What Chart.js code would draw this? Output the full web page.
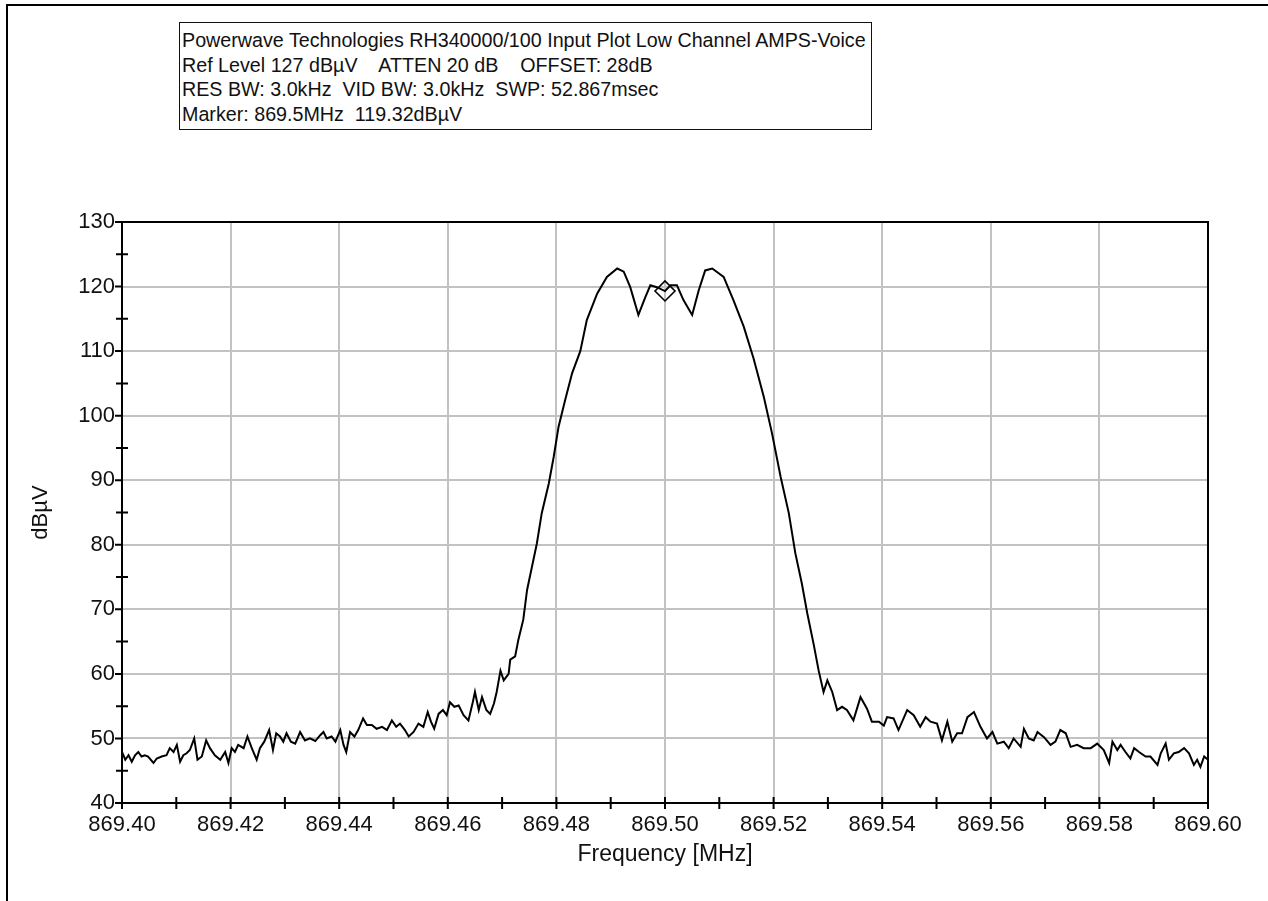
<!DOCTYPE html>
<html>
<head>
<meta charset="utf-8">
<script src="https://cdn.jsdelivr.net/npm/chart.js@4.4.1/dist/chart.umd.min.js"></script>
<style>
  html, body { margin: 0; padding: 0; background: #fff; }
  body { width: 1268px; height: 901px; position: relative; overflow: hidden;
         font-family: "Liberation Sans", Arial, sans-serif; }
  #wrap { position: absolute; left: 0; top: 0; width: 1268px; height: 901px; }
  .frame-top { position: absolute; left: 6px; top: 4px; width: 1262px; height: 2px; background: #000; }
  .frame-left { position: absolute; left: 6px; top: 4px; width: 2px; height: 897px; background: #000; }
  #info { position: absolute; left: 179px; top: 22px; border: 1.5px solid #111; background: #fff;
          padding: 5px 5px 3px 2px; font-size: 19.7px; line-height: 24.5px; color: #111; white-space: pre; }
</style>
</head>
<body>
<div id="wrap"><canvas id="c"></canvas></div>
<div class="frame-top"></div>
<div class="frame-left"></div>
<div id="info">Powerwave Technologies RH340000/100 Input Plot Low Channel AMPS-Voice
Ref Level 127 dBµV    ATTEN 20 dB    OFFSET: 28dB
RES BW: 3.0kHz  VID BW: 3.0kHz  SWP: 52.867msec
Marker: 869.5MHz  119.32dBµV</div>
<script>
/* Spectrum trace: sweep frequency (MHz) and level (dBµV) */
const freqMHz = [
  869.4000, 869.4006, 869.4012, 869.4018, 869.4024, 869.4030, 869.4036, 869.4042, 869.4048, 869.4058,
  869.4064, 869.4073, 869.4082, 869.4088, 869.4095, 869.4101, 869.4107, 869.4113, 869.4119, 869.4125,
  869.4133, 869.4139, 869.4147, 869.4155, 869.4162, 869.4171, 869.4181, 869.4190, 869.4196, 869.4202,
  869.4208, 869.4214, 869.4224, 869.4231, 869.4239, 869.4248, 869.4254, 869.4262, 869.4271, 869.4278,
  869.4284, 869.4291, 869.4297, 869.4303, 869.4311, 869.4319, 869.4328, 869.4337, 869.4346, 869.4356,
  869.4365, 869.4371, 869.4377, 869.4386, 869.4393, 869.4402, 869.4408, 869.4413, 869.4420, 869.4428,
  869.4435, 869.4444, 869.4451, 869.4460, 869.4469, 869.4479, 869.4488, 869.4497, 869.4505, 869.4512,
  869.4521, 869.4528, 869.4537, 869.4546, 869.4555, 869.4563, 869.4569, 869.4575, 869.4583, 869.4591,
  869.4598, 869.4604, 869.4612, 869.4620, 869.4629, 869.4638, 869.4646, 869.4650, 869.4657, 869.4663,
  869.4671, 869.4678, 869.4685, 869.4690, 869.4697, 869.4703, 869.4712, 869.4715, 869.4724, 869.4730,
  869.4739, 869.4746, 869.4755, 869.4764, 869.4773, 869.4786, 869.4795, 869.4804, 869.4816, 869.4829,
  869.4844, 869.4856, 869.4875, 869.4893, 869.4912, 869.4924, 869.4936, 869.4951, 869.4964, 869.4973,
  869.4985, 869.5000, 869.5010, 869.5022, 869.5034, 869.5050, 869.5062, 869.5074, 869.5087, 869.5108,
  869.5126, 869.5145, 869.5163, 869.5182, 869.5197, 869.5213, 869.5228, 869.5240, 869.5252, 869.5262,
  869.5274, 869.5283, 869.5292, 869.5299, 869.5308, 869.5317, 869.5326, 869.5335, 869.5347, 869.5360,
  869.5372, 869.5381, 869.5394, 869.5403, 869.5409, 869.5421, 869.5430, 869.5446, 869.5458, 869.5470,
  869.5480, 869.5489, 869.5501, 869.5510, 869.5520, 869.5529, 869.5538, 869.5547, 869.5557, 869.5569,
  869.5581, 869.5593, 869.5603, 869.5612, 869.5624, 869.5633, 869.5642, 869.5655, 869.5661, 869.5670,
  869.5679, 869.5686, 869.5698, 869.5710, 869.5719, 869.5728, 869.5738, 869.5747, 869.5759, 869.5771,
  869.5784, 869.5796, 869.5808, 869.5818, 869.5824, 869.5833, 869.5839, 869.5848, 869.5857, 869.5864,
  869.5873, 869.5885, 869.5894, 869.5907, 869.5913, 869.5922, 869.5928, 869.5937, 869.5946, 869.5956,
  869.5965, 869.5974, 869.5980, 869.5986, 869.5993, 869.6000,
];
const levelDbuV = [
  47.9, 46.7, 47.4, 46.4, 47.4, 47.9, 47.2, 47.4, 47.2, 46.2,
  46.9, 47.2, 47.4, 48.5, 47.9, 49.0, 46.4, 47.4, 47.7, 48.2,
  50.0, 46.7, 47.2, 49.7, 48.5, 47.4, 46.7, 47.9, 46.2, 48.5,
  47.9, 49.0, 48.5, 50.3, 48.5, 46.7, 48.5, 49.5, 51.3, 48.2,
  50.8, 50.3, 49.5, 50.8, 49.5, 49.2, 51.0, 49.7, 50.0, 49.6,
  50.5, 51.0, 50.0, 50.3, 49.5, 51.3, 49.0, 47.9, 51.0, 50.3,
  51.3, 53.1, 52.1, 52.1, 51.5, 51.8, 51.3, 52.8, 51.8, 52.3,
  51.3, 50.3, 51.0, 52.3, 51.8, 54.1, 52.6, 51.5, 53.8, 54.4,
  53.6, 55.6, 54.9, 55.1, 53.6, 52.8, 55.6, 57.2, 54.4, 56.4,
  54.4, 53.8, 55.4, 57.2, 60.5, 59.0, 60.0, 62.2, 62.7, 65.3,
  68.4, 73.0, 76.6, 80.2, 84.9, 89.5, 93.6, 98.3, 102.4, 106.6,
  110.0, 114.8, 118.9, 121.5, 122.8, 122.3, 119.9, 115.6, 118.4, 120.2,
  119.9, 119.3, 120.2, 120.2, 117.9, 115.6, 119.4, 122.5, 122.8, 121.5,
  117.9, 113.8, 108.9, 102.9, 97.3, 90.5, 84.9, 78.7, 74.0, 69.4,
  64.5, 60.5, 57.2, 59.0, 57.2, 54.4, 54.9, 54.4, 52.8, 56.4,
  54.6, 52.6, 52.6, 52.0, 53.3, 53.1, 51.3, 54.4, 53.6, 51.8,
  53.3, 52.6, 52.3, 49.7, 52.6, 49.5, 50.8, 50.8, 53.3, 54.1,
  51.8, 50.0, 51.0, 49.2, 49.5, 48.5, 50.0, 48.7, 51.5, 50.0,
  49.7, 51.0, 50.2, 49.0, 49.5, 51.3, 50.8, 48.7, 49.0, 48.5,
  48.5, 49.2, 48.2, 46.2, 49.5, 48.2, 49.0, 47.9, 46.9, 48.5,
  47.9, 47.2, 47.2, 45.9, 47.7, 49.2, 46.7, 47.7, 47.9, 48.5,
  47.7, 45.9, 46.7, 45.6, 47.2, 46.7,
];
const markerFreq = [869.5];
const markerLevel = [119.32];

const xTickValues = [869.40, 869.42, 869.44, 869.46, 869.48, 869.50, 869.52, 869.54, 869.56, 869.58, 869.60];
const xMinorTicks = [869.41, 869.43, 869.45, 869.47, 869.49, 869.51, 869.53, 869.55, 869.57, 869.59];
const yTickValues = [40, 50, 60, 70, 80, 90, 100, 110, 120, 130];
const yMinorTicks = [45, 55, 65, 75, 85, 95, 105, 115, 125];

Chart.defaults.font.family = '"Liberation Sans", Arial, sans-serif';
Chart.defaults.color = "#111";

// black plot frame + tick marks that straddle the axes, like the analyzer software
const plotFrame = {
  id: "plotFrame",
  afterDraw(chart) {
    const { ctx, chartArea: a, scales: { x, y } } = chart;
    ctx.save();
    ctx.strokeStyle = "#000";
    ctx.lineWidth = 2;
    ctx.strokeRect(a.left, a.top, a.right - a.left, a.bottom - a.top);
    ctx.beginPath();
    xTickValues.concat(xMinorTicks).forEach(v => {
      const px = x.getPixelForValue(v);
      ctx.moveTo(px, a.bottom - 6); ctx.lineTo(px, a.bottom + 6);
    });
    yTickValues.forEach(v => {
      const py = y.getPixelForValue(v);
      ctx.moveTo(a.left - 7, py); ctx.lineTo(a.left, py);
    });
    yMinorTicks.forEach(v => {
      const py = y.getPixelForValue(v);
      ctx.moveTo(a.left - 6, py); ctx.lineTo(a.left + 6, py);
    });
    ctx.stroke();
    ctx.restore();
  },
};

new Chart(document.getElementById("c"), {
  type: "line",
  data: {
    datasets: [
      { label: "Trace", data: freqMHz.map((f, i) => ({ x: f, y: levelDbuV[i] })),
        borderColor: "#000", borderWidth: 2, pointRadius: 0, tension: 0, order: 2 },
      { label: "Marker", data: markerFreq.map((f, i) => ({ x: f, y: markerLevel[i] })),
        showLine: false, pointStyle: "rectRot", pointRadius: 10, borderColor: "#000",
        backgroundColor: "rgba(0,0,0,0)", pointBorderWidth: 1.6, order: 1 },
    ],
  },
  options: {
    responsive: true, maintainAspectRatio: false, animation: false,
    layout: { padding: { left: 22, top: 222, right: 60, bottom: 8 } },
    plugins: { legend: { display: false }, tooltip: { enabled: false } },
    scales: {
      x: {
        type: "linear", min: 869.40, max: 869.60,
        afterBuildTicks: s => { s.ticks = xTickValues.map(v => ({ value: v })); },
        afterFit: s => { s.height = 90; },
        ticks: { autoSkip: false, maxRotation: 0, padding: 9, font: { size: 22 }, callback: v => v.toFixed(2) },
        grid: { color: "#c2c2c2", lineWidth: 2, drawTicks: false },
        border: { color: "#000", width: 2 },
        title: { display: true, text: "Frequency [MHz]", font: { size: 23 }, padding: { top: 0, bottom: 25 } },
      },
      y: {
        min: 40, max: 130,
        afterBuildTicks: s => { s.ticks = yTickValues.map(v => ({ value: v })); },
        afterFit: s => { s.width = 100; },
        ticks: { autoSkip: false, padding: 7, font: { size: 22 } },
        grid: { color: "#c2c2c2", lineWidth: 2, drawTicks: false },
        border: { color: "#000", width: 2 },
        title: { display: true, text: "dBµV", font: { size: 22 }, padding: { top: 6, bottom: 0 } },
      },
    },
  },
  plugins: [plotFrame],
});
</script>
</body>
</html>
